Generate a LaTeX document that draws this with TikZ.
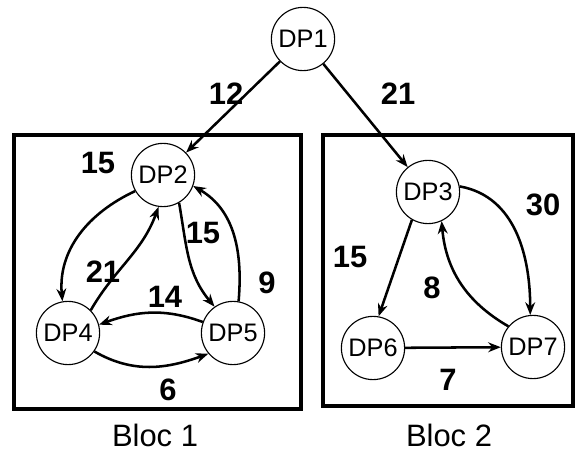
\documentclass[tikz,border=0pt]{standalone}
\usepackage{fontspec}
\setmainfont{Liberation Sans}
\usetikzlibrary{arrows.meta, positioning}

\begin{document}
\begin{tikzpicture}[
  x=0.025cm, y=-0.025cm,
  >={Stealth[length=9pt, width=7pt]},
  % --- styles ---
  dpnode/.style={
    draw, circle, line width=0.8pt, minimum size=1.58cm, inner sep=0pt,
    font=\fontsize{18}{21}\selectfont,
  },
  bloc/.style={draw, line width=2.4pt},
  arr/.style={->, line width=1.8pt},
  wlbl/.style={font=\fontsize{22}{26}\selectfont\bfseries},
  bloclbl/.style={font=\fontsize{22}{26}\selectfont},
]
\useasboundingbox (0,0) rectangle (576,452);

% ---------- Blocks ----------
\draw[bloc] (14,135) rectangle (301,409);
\draw[bloc] (323,135) rectangle (573,406);
\node[bloclbl] (b1) at (155,435) {Bloc 1};
\node[bloclbl] (b2) at (449,435) {Bloc 2};

% ---------- Nodes ----------
\node[dpnode] (dp1) at (303,39)  {DP1};
\node[dpnode] (dp2) at (163,175) {DP2};
\node[dpnode] (dp4) at (68,333)  {DP4};
\node[dpnode] (dp5) at (233,333) {DP5};
\node[dpnode] (dp3) at (428,192) {DP3};
\node[dpnode] (dp6) at (373,348) {DP6};
\node[dpnode] (dp7) at (533,347) {DP7};

% ---------- DP1 to the blocks ----------
\draw[arr] (dp1) -- (dp2);
\draw[arr] (dp1) -- (dp3);
\node[wlbl] at (226,94) {12};
\node[wlbl] at (398,94) {21};

% ---------- Bloc 1 ----------
\draw[arr] (dp2.210) to[out=205, in=95] (dp4.100);
\draw[arr] (dp4.45) to[out=60, in=250] (dp2.262);
\draw[arr] (dp2.300) to[out=-80, in=130] (dp5.125);
\draw[arr] (dp5.80) to[out=85, in=-30] (dp2.340);
\draw[arr] (dp5.160) to[out=160, in=20] (dp4.15);
\draw[arr] (dp4.-35) to[out=-30, in=-160] (dp5.-140);
\node[wlbl] at (98,163)  {15};
\node[wlbl] at (203,233) {15};
\node[wlbl] at (103,272) {21};
\node[wlbl] at (165,297) {14};
\node[wlbl] at (267,283) {9};
\node[wlbl] at (168,390) {6};

% ---------- Bloc 2 ----------
\draw[arr] (dp3.240) -- (dp6.80);
\draw[arr] (dp3.10) to[out=-10, in=90] (dp7.95);
\draw[arr] (dp7.140) to[out=150, in=-85] (dp3.-65);
\draw[arr] (dp6) -- (dp7);
\node[wlbl] at (350,257) {15};
\node[wlbl] at (543,205) {30};
\node[wlbl] at (432,288) {8};
\node[wlbl] at (448,380) {7};

\end{tikzpicture}
\end{document}
